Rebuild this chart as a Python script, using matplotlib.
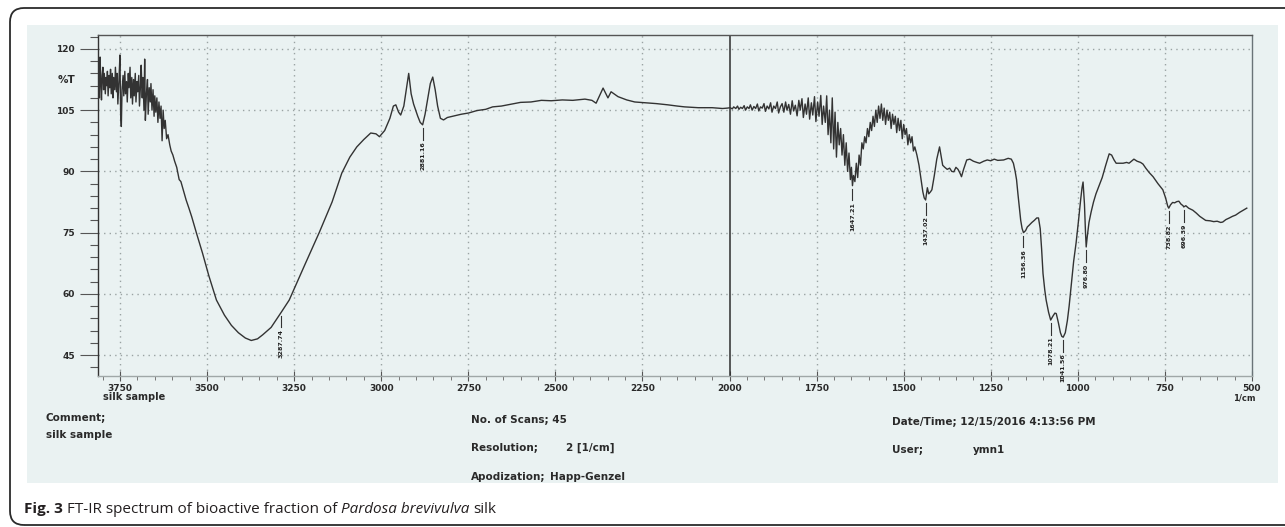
import numpy as np
import matplotlib.pyplot as plt
from matplotlib.patches import Rectangle, FancyBboxPatch
from matplotlib.ticker import MultipleLocator
from matplotlib.transforms import IdentityTransform

# FT-IR trace: (wavenumber 1/cm, %T)
noisy_oh = [
    (3813, 110.5), (3811, 116.5), (3809, 108.0), (3807, 118.0), (3805, 112.0),
    (3803, 107.5), (3801, 113.5), (3799, 115.5), (3797, 110.0), (3795, 114.0),
    (3792, 109.0), (3790, 113.0), (3788, 111.0), (3786, 114.5), (3784, 108.5),
    (3781, 113.5), (3779, 110.5), (3777, 115.0), (3775, 109.0), (3772, 114.0),
    (3770, 108.0), (3768, 113.0), (3765, 110.0), (3763, 115.5), (3760, 109.5),
    (3758, 114.0), (3756, 106.5), (3753, 112.0), (3750, 118.5), (3748, 104.0),
    (3746, 101.0), (3744, 110.0), (3741, 113.5), (3739, 108.5), (3736, 114.5),
    (3734, 109.0), (3731, 112.0), (3729, 107.0), (3726, 114.0), (3724, 110.5),
    (3721, 115.5), (3719, 108.0), (3716, 113.0), (3714, 106.5), (3711, 112.5),
    (3709, 108.5), (3706, 114.0), (3704, 107.0), (3701, 112.0), (3699, 109.5),
    (3696, 113.5), (3694, 106.0), (3691, 111.0), (3689, 116.0), (3686, 108.0),
    (3684, 113.0), (3681, 105.0), (3679, 117.5), (3677, 102.5), (3674, 109.0),
    (3671, 112.5), (3669, 104.0), (3666, 110.5), (3663, 107.0), (3661, 111.5),
    (3658, 105.0), (3655, 110.0), (3652, 103.5), (3650, 108.5), (3647, 104.5),
    (3644, 108.0), (3641, 102.0), (3638, 107.0), (3635, 103.0), (3632, 106.0),
    (3629, 97.5), (3626, 105.0), (3623, 100.5), (3620, 102.5), (3616, 98.0),
    (3612, 99.0), (3607, 96.5), (3603, 95.0), (3598, 94.0),
]
oh_band = [
    (3593, 92.5), (3587, 91.0), (3580, 88.0), (3575, 87.5), (3570, 86.0),
    (3560, 83.0), (3552, 81.0), (3544, 78.9), (3530, 74.8), (3513, 70.0),
    (3495, 64.5), (3473, 58.5), (3450, 54.8), (3430, 52.3), (3410, 50.5),
    (3390, 49.2), (3373, 48.6), (3355, 49.0), (3340, 50.0), (3316, 51.8),
    (3287, 55.5), (3264, 58.5), (3221, 66.8), (3178, 75.0), (3141, 82.5),
    (3113, 89.6), (3090, 93.5), (3070, 96.0), (3050, 97.8), (3030, 99.4),
    (3015, 99.2), (3005, 98.5), (2990, 100.0), (2975, 103.0), (2965, 106.0),
    (2958, 106.3), (2950, 104.5), (2944, 103.8), (2935, 106.0), (2928, 110.0),
    (2921, 114.0), (2914, 109.0), (2907, 106.5), (2895, 103.5), (2888, 102.0),
    (2881, 101.4), (2874, 104.0), (2866, 108.0), (2859, 111.5), (2852, 113.1),
    (2845, 110.0), (2838, 106.0), (2830, 103.0), (2821, 102.6), (2810, 103.2),
]
flat_mid = [
    (2790, 103.6), (2770, 104.0), (2749, 104.3), (2725, 104.9), (2700, 105.2),
    (2680, 105.8), (2655, 106.0), (2630, 106.4), (2600, 106.9), (2570, 107.0),
    (2540, 107.4), (2512, 107.3), (2480, 107.5), (2450, 107.4), (2415, 107.7),
    (2395, 107.4), (2383, 106.7), (2363, 110.4), (2349, 108.0), (2340, 109.5),
    (2320, 108.3), (2295, 107.5), (2272, 107.0), (2240, 106.8), (2210, 106.6),
    (2177, 106.3), (2150, 106.0), (2129, 105.8), (2090, 105.6), (2050, 105.6),
    (2020, 105.4),
]
noisy_amide = [
    (2006, 105.5), (1998, 105.6), (1992, 105.3), (1988, 105.8), (1982, 105.4),
    (1977, 106.0), (1973, 105.2), (1968, 105.7), (1963, 105.4), (1958, 106.1),
    (1954, 105.0), (1949, 105.8), (1944, 105.4), (1940, 106.3), (1935, 105.0),
    (1930, 105.9), (1925, 105.4), (1920, 106.5), (1916, 104.8), (1911, 105.8),
    (1906, 105.5), (1901, 106.6), (1897, 104.7), (1892, 106.0), (1887, 105.3),
    (1882, 106.8), (1878, 104.5), (1873, 106.0), (1868, 105.4), (1863, 107.0),
    (1859, 104.3), (1854, 105.8), (1849, 106.6), (1844, 104.5), (1839, 107.0),
    (1835, 105.0), (1830, 106.4), (1825, 104.0), (1820, 107.3), (1816, 104.8),
    (1811, 106.2), (1806, 103.6), (1801, 107.4), (1797, 105.0), (1792, 107.8),
    (1788, 103.2), (1783, 106.5), (1779, 104.0), (1774, 108.0), (1770, 102.8),
    (1765, 106.8), (1761, 103.8), (1756, 108.3), (1752, 102.2), (1747, 107.0),
    (1743, 103.5), (1738, 108.6), (1734, 101.5), (1730, 106.0), (1725, 102.0),
    (1721, 108.5), (1717, 99.0), (1713, 105.0), (1709, 97.0), (1705, 108.0),
    (1701, 95.5), (1697, 104.5), (1693, 93.5), (1689, 102.0), (1685, 96.5),
    (1681, 100.5), (1677, 94.0), (1673, 99.0), (1669, 91.5), (1665, 97.0),
    (1661, 90.0), (1657, 94.5), (1653, 88.0), (1650, 91.0), (1647, 86.5),
    (1644, 89.0), (1640, 87.5), (1636, 92.0), (1632, 88.5), (1628, 94.0),
    (1624, 91.5), (1620, 97.0), (1616, 95.5), (1612, 98.5), (1608, 97.0),
    (1604, 100.5), (1600, 98.5), (1596, 102.0), (1592, 100.0), (1588, 103.5),
    (1584, 101.0), (1580, 105.0), (1576, 102.0), (1572, 106.0), (1568, 103.0),
    (1564, 106.5), (1560, 102.5), (1556, 105.5), (1552, 101.5), (1548, 105.0),
    (1544, 102.5), (1540, 104.5), (1536, 100.5), (1532, 104.0), (1528, 101.5),
    (1524, 103.5), (1520, 99.5), (1516, 103.0), (1512, 100.0), (1508, 102.5),
    (1504, 98.0), (1500, 101.5), (1496, 99.0), (1492, 100.5), (1488, 96.5),
    (1484, 99.0), (1480, 97.0), (1476, 98.5), (1472, 95.0), (1468, 96.0),
]
fingerprint = [
    (1462, 94.0), (1456, 91.5), (1450, 88.0), (1445, 85.0), (1441, 83.5),
    (1437, 83.0), (1432, 86.0), (1428, 84.5), (1423, 85.0), (1419, 85.5),
    (1412, 89.0), (1405, 93.0), (1397, 96.0), (1392, 93.5), (1388, 91.5),
    (1382, 91.0), (1375, 90.5), (1368, 90.8), (1362, 90.0), (1356, 89.9),
    (1350, 91.0), (1344, 90.5), (1338, 89.5), (1334, 88.7), (1328, 90.5),
    (1319, 92.8), (1310, 93.0), (1300, 92.5), (1290, 92.2), (1282, 92.0),
    (1270, 92.5), (1260, 92.8), (1250, 92.6), (1240, 93.0), (1230, 92.7),
    (1213, 92.8), (1200, 93.2), (1191, 93.0), (1185, 92.0), (1180, 90.0),
    (1176, 88.0), (1172, 84.5), (1168, 81.3), (1164, 78.0), (1160, 76.0),
    (1156, 75.0), (1150, 75.5), (1145, 76.4), (1140, 76.8), (1132, 77.5),
    (1125, 78.0), (1118, 78.6), (1113, 78.6), (1108, 76.0), (1104, 71.0),
    (1100, 65.0), (1095, 61.0), (1091, 58.5), (1084, 55.5), (1078, 53.6),
    (1072, 54.5), (1066, 55.3), (1062, 55.2), (1056, 53.0), (1050, 50.5),
    (1046, 49.6), (1042, 49.4), (1036, 50.5), (1030, 53.5), (1025, 57.0),
    (1018, 63.0), (1012, 68.0), (1005, 72.5), (998, 78.0), (992, 83.0),
    (988, 86.0), (985, 87.4), (981, 82.0), (978, 75.0), (976, 71.5),
    (973, 74.0), (968, 77.5), (962, 80.0), (955, 82.5), (948, 84.5),
    (939, 86.5), (930, 88.5), (920, 91.5), (910, 94.3), (903, 94.0),
    (896, 92.8), (890, 92.0), (870, 92.0), (860, 92.2), (853, 92.0),
    (846, 92.5), (839, 93.0), (830, 92.5), (820, 92.2), (813, 91.8),
    (805, 90.8), (795, 89.7), (784, 88.7), (770, 87.0), (756, 85.5),
    (748, 83.5), (742, 81.5), (739, 81.0), (734, 81.8), (728, 82.4),
    (722, 82.3), (716, 82.6), (710, 82.7), (704, 82.0), (698, 81.6),
    (696, 81.3), (690, 81.6), (682, 81.0), (670, 80.5), (660, 79.8),
    (650, 79.0), (640, 78.4), (633, 78.0), (620, 77.9), (610, 77.7),
    (600, 77.8), (590, 77.5), (584, 77.6), (575, 78.2), (565, 78.6),
    (556, 79.0), (547, 79.3), (535, 80.0), (525, 80.5), (515, 81.0),
]

# peak picks printed under the trace
peak_wn = [3287, 2881, 1647, 1437, 1156, 1078, 1042, 976, 739, 696]
peak_text = ["3287.74", "2881.16", "1647.21", "1437.02", "1156.36",
             "1078.21", "1041.56", "976.80", "738.82", "696.39"]

x_ticks = [3750, 3500, 3250, 3000, 2750, 2500, 2250, 2000, 1750, 1500, 1250, 1000, 750, 500]
y_ticks = [45, 60, 75, 90, 105, 120]

W, H = 1285, 527


def fx(px):
    return px / W


def fy(py):
    return 1 - py / H


spec = np.array(noisy_oh + oh_band + flat_mid + noisy_amide + fingerprint)
wn, trans = spec[:, 0], spec[:, 1]

fig = plt.figure(figsize=(W / 100, H / 100), dpi=100)
fig.patch.set_facecolor('white')

# scanned sheet and the rounded frame of the figure box
fig.patches.append(Rectangle((fx(27), fy(483)), fx(1278) - fx(27), fy(25) - fy(483),
                             transform=fig.transFigure, facecolor='#eaf2f2',
                             edgecolor='none', zorder=-5))
fig.patches.append(FancyBboxPatch((10, 2), 1400, 517, boxstyle='round,pad=0,rounding_size=14',
                                  transform=IdentityTransform(), facecolor='none',
                                  edgecolor='#2b2b2b', lw=1.3, zorder=5))

ax = fig.add_axes([fx(98), fy(376), fx(1252) - fx(98), fy(35) - fy(376)])
ax.set_zorder(2)
ax.set_facecolor('none')
ax.set_xlim(3813, 500)
ax.set_ylim(39.9, 123.4)

for v in x_ticks[:-1]:
    if v == 2000:
        ax.axvline(v, color='#2e2e2e', lw=1.1, zorder=2)
    else:
        ax.axvline(v, color='#9aa3a3', lw=1, ls=(0, (1, 3)), zorder=1)
for v in y_ticks:
    ax.axhline(v, color='#9aa3a3', lw=1, ls=(0, (1, 3)), zorder=1)

ax.plot(wn, trans, color='#333333', lw=1.0, zorder=3)

# peak markers: short drop line and vertical value text
order = np.argsort(wn)
for p, s in zip(peak_wn, peak_text):
    t0 = np.interp(p, wn[order], trans[order])
    ax.plot([p, p], [t0 - 0.8, t0 - 3.6], color='#333333', lw=0.8, zorder=3)
    ax.text(p, t0 - 4.0, s, rotation=90, ha='center', va='top', fontsize=4.6,
            weight='bold', color='#222222', family='DejaVu Sans')

ax.set_xticks(x_ticks)
ax.set_xticklabels([str(v) for v in x_ticks])
ax.xaxis.set_minor_locator(MultipleLocator(50))
ax.set_yticks(y_ticks)
ax.set_yticklabels([str(v) for v in y_ticks])
ax.yaxis.set_minor_locator(MultipleLocator(3))

ax.tick_params(axis='x', which='major', direction='inout', length=7, width=0.8,
               color='#555555', pad=2, labelsize=6.5, labelcolor='#2a2a2a')
ax.tick_params(axis='x', which='minor', direction='out', length=3, width=0.7, color='#777777')
ax.tick_params(axis='y', which='major', direction='out', length=13, width=0.8,
               color='#555555', pad=3.5, labelsize=6.5, labelcolor='#2a2a2a')
ax.tick_params(axis='y', which='minor', direction='out', length=6, width=0.8, color='#555555')
for lab in ax.get_xticklabels() + ax.get_yticklabels():
    lab.set_fontweight('bold')
    lab.set_family('DejaVu Sans')

ax.spines['left'].set_color('#333333')
ax.spines['top'].set_color('#555555')
ax.spines['right'].set_color('#6a7478')
ax.spines['bottom'].set_color('#a0a8a8')
for sp in ax.spines.values():
    sp.set_linewidth(1.0)

info = dict(fontsize=7.5, weight='bold', color='#2a2a2a', family='DejaVu Sans', va='center')
fig.text(fx(75), fy(80), '%T', ha='right', **info)
fig.text(fx(103), fy(397), 'silk sample', ha='left', **dict(info, fontsize=7))
fig.text(fx(1244), fy(398), '1/cm', ha='center', **dict(info, fontsize=6))
fig.text(fx(46), fy(418), 'Comment;', **info)
fig.text(fx(46), fy(435), 'silk sample', **info)
fig.text(fx(471), fy(420), 'No. of Scans; 45', **info)
fig.text(fx(471), fy(448), 'Resolution;', **info)
fig.text(fx(566), fy(448), '2 [1/cm]', **info)
fig.text(fx(471), fy(477), 'Apodization;', **info)
fig.text(fx(550), fy(477), 'Happ-Genzel', **info)
fig.text(fx(892), fy(422), 'Date/Time; 12/15/2016 4:13:56 PM', **info)
fig.text(fx(892), fy(450), 'User;', **info)
fig.text(fx(973), fy(450), 'ymn1', **info)

# caption, laid out piece by piece
renderer = fig.canvas.get_renderer()
pieces = [('Fig. 3', 'normal', 'bold'),
          ('FT-IR spectrum of bioactive fraction of', 'normal', 'normal'),
          ('Pardosa brevivulva', 'italic', 'normal'),
          ('silk', 'normal', 'normal')]
x = 24
for s, style, weight in pieces:
    t = fig.text(fx(x), fy(513), s, fontsize=11, family='Open Sans', style=style,
                 weight=weight, color='#231f20', va='baseline', ha='left')
    bb = t.get_window_extent(renderer)
    x = bb.x1 + 4

fig.savefig('out.png', dpi=100)
